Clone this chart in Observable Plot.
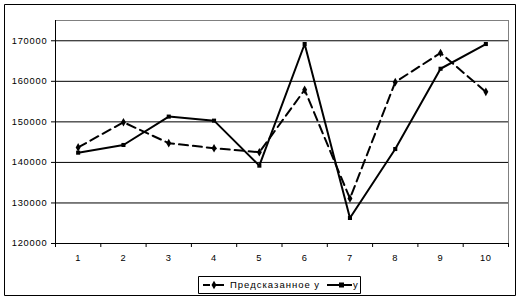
<!DOCTYPE html>
<html>
<head>
<meta charset="utf-8">
<script src="https://cdn.jsdelivr.net/npm/d3@7"></script>
<script src="https://cdn.jsdelivr.net/npm/@observablehq/plot@0.6"></script>
<style>
  html, body { margin: 0; padding: 0; background: white; }
  svg { display: block; }
</style>
</head>
<body>
<div id="chart"></div>
<script>
const xs = [1, 2, 3, 4, 5, 6, 7, 8, 9, 10];
const predicted = [143700, 149900, 144750, 143500, 142500, 157900, 131100, 159800, 167000, 157400];
const actual = [142400, 144300, 151300, 150300, 139200, 169200, 126300, 143300, 163100, 169200];
const yTicks = [120000, 130000, 140000, 150000, 160000, 170000];
const seriesNames = ["Предсказанное у", "у"];

const predRows = xs.map((x, i) => ({x, v: predicted[i]}));
const actRows = xs.map((x, i) => ({x, v: actual[i]}));
const bounds = [0.5].concat(xs.map(x => x + 0.5));

const font = "'Liberation Sans', Arial, sans-serif";

const chart = Plot.plot({
  width: 520,
  height: 301,
  marginLeft: 55,
  marginRight: 12,
  marginTop: 20,
  marginBottom: 58,
  style: {fontFamily: font, fontSize: "9.3px", background: "white", color: "black", letterSpacing: "0.8px"},
  x: {type: "linear", domain: [0.5, 10.5]},
  y: {domain: [120000, 175000]},
  marks: [
    Plot.ruleY(yTicks.slice(1), {stroke: "black", strokeWidth: 1}),
    Plot.ruleY([175000], {stroke: "#808080", strokeWidth: 1}),
    Plot.ruleX([10.5], {stroke: "#808080", strokeWidth: 1}),
    Plot.ruleX([0.5], {stroke: "black", strokeWidth: 1}),
    Plot.ruleY([120000], {stroke: "black", strokeWidth: 1}),
    Plot.axisY({ticks: yTicks, tickFormat: d => String(d), tickSize: 4, tickPadding: 4, label: null, strokeOpacity: 1}),
    Plot.axisX({ticks: bounds, tickFormat: () => "", tickSize: 4, label: null, strokeOpacity: 1}),
    Plot.axisX({ticks: xs, tickFormat: d => String(d), tickSize: 0, tickPadding: 10.5, label: null}),
    Plot.line(predRows, {x: "x", y: "v", stroke: "black", strokeWidth: 2, strokeDasharray: "9,5"}),
    Plot.dot(predRows, {x: "x", y: "v", symbol: "diamond", r: 2.6, fill: "black", stroke: "none"}),
    Plot.line(actRows, {x: "x", y: "v", stroke: "black", strokeWidth: 2}),
    Plot.dot(actRows, {x: "x", y: "v", symbol: "square", r: 2.3, fill: "black", stroke: "none"})
  ]
});

document.getElementById("chart").appendChild(chart);

const svg = d3.select(chart);
// outer chart border
svg.append("path")
  .attr("d", "M4.5,4.5H515.5V295.5H4.5Z")
  .style("fill", "none").style("stroke", "black").style("stroke-width", "1px");

// legend
const lg = svg.append("g")
  .style("font-family", font).style("font-size", "9.5px").style("letter-spacing", "1px")
  .attr("text-anchor", "start");
lg.append("path").attr("d", "M198.5,276.5H360.5V293.5H198.5Z")
  .style("fill", "white").style("stroke", "black").style("stroke-width", "1px");
const ly = 285;
lg.append("line").attr("x1", 203).attr("x2", 210).attr("y1", ly).attr("y2", ly)
  .style("stroke", "black").style("stroke-width", "2px");
lg.append("line").attr("x1", 213).attr("x2", 224).attr("y1", ly).attr("y2", ly)
  .style("stroke", "black").style("stroke-width", "2px");
lg.append("path").attr("d", d3.symbol(d3.symbolDiamond, 2.6 * 2.6 * Math.PI)()).attr("transform", `translate(214,${ly})`).style("fill", "black");
lg.append("text").attr("x", 230).attr("y", ly + 3.3).style("fill", "black").attr("text-anchor", "start").text(seriesNames[0]);
lg.append("line").attr("x1", 327).attr("x2", 352).attr("y1", ly).attr("y2", ly)
  .style("stroke", "black").style("stroke-width", "2px");
lg.append("rect").attr("x", 339).attr("y", ly - 2.5).attr("width", 5).attr("height", 5).style("fill", "black");
lg.append("text").attr("x", 353).attr("y", ly + 3.3).style("fill", "black").attr("text-anchor", "start").text(seriesNames[1]);
</script>
</body>
</html>
